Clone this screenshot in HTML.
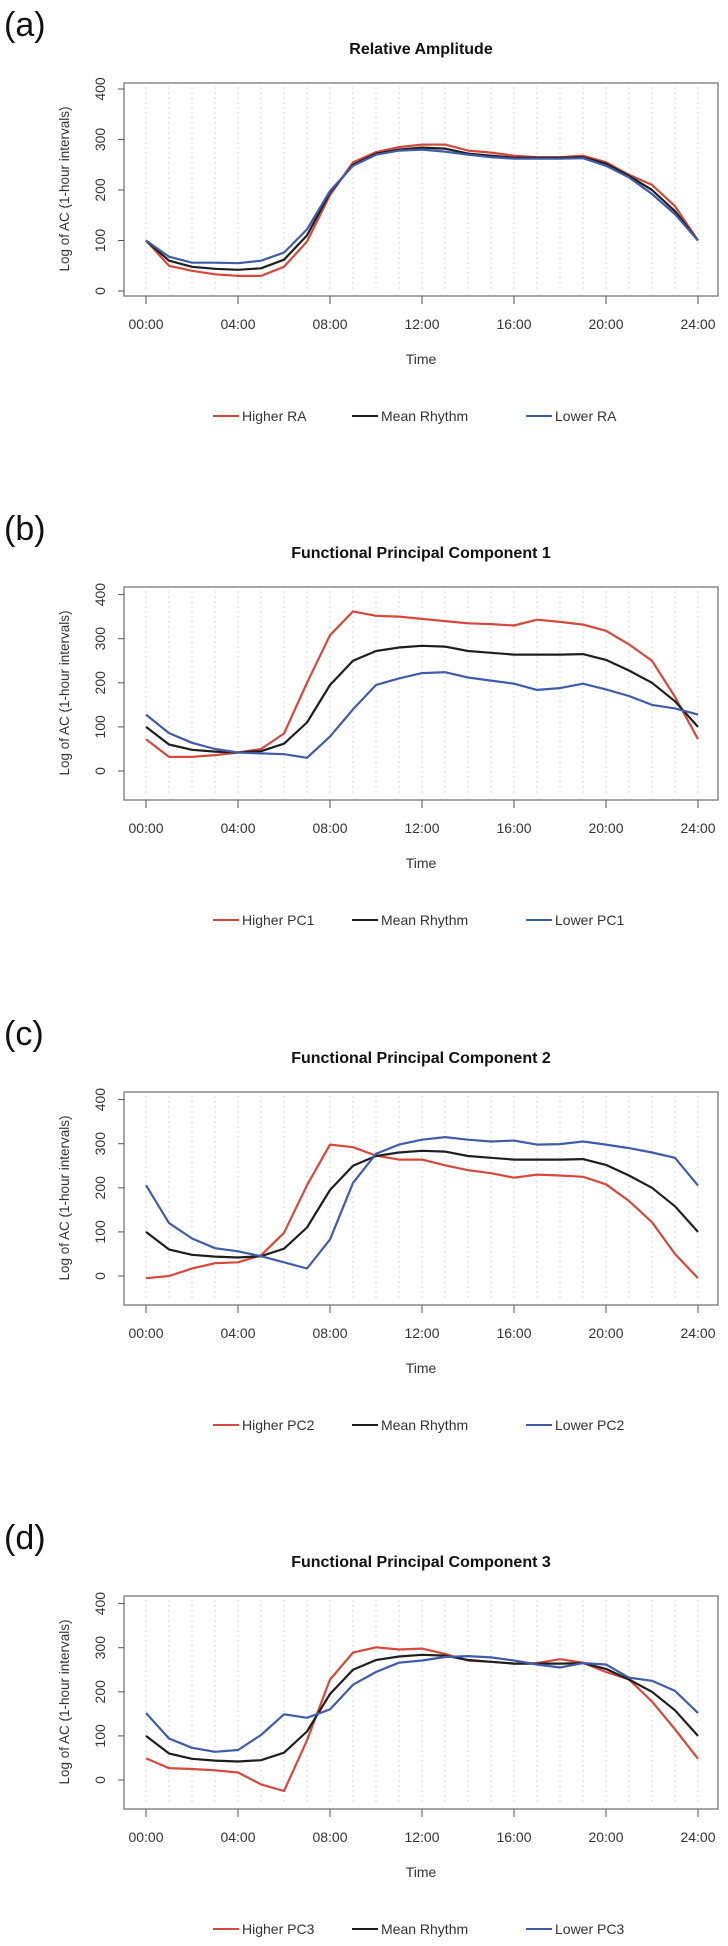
<!DOCTYPE html>
<html><head><meta charset="utf-8"><style>
html,body{margin:0;padding:0;background:#fff;width:728px;height:1946px;overflow:hidden}
svg{display:block;font-family:"Liberation Sans",Arial,sans-serif}
</style></head><body>
<svg id="fig" width="728" height="1946" viewBox="0 0 728 1946"></svg>
<script>
const hours = [0,1,2,3,4,5,6,7,8,9,10,11,12,13,14,15,16,17,18,19,20,21,22,23,24];
const xTickLabels = ["00:00","04:00","08:00","12:00","16:00","20:00","24:00"];
const yTickValues = [0,100,200,300,400];
const panelLetters = ["(a)","(b)","(c)","(d)"];
const panelTitles = ["Relative Amplitude","Functional Principal Component 1","Functional Principal Component 2","Functional Principal Component 3"];
const higherNames = ["Higher RA","Higher PC1","Higher PC2","Higher PC3"];
const lowerNames = ["Lower RA","Lower PC1","Lower PC2","Lower PC3"];
const meanRhythm = [100,60,48,44,42,45,62,110,195,250,272,280,284,282,272,268,264,264,264,265,252,228,200,158,100];
const higherRA = [100,50,40,33,30,30,48,98,190,255,275,285,290,290,278,274,268,265,265,268,255,230,210,168,100];
const lowerRA = [100,68,56,56,55,60,76,122,198,248,270,278,280,276,270,265,262,262,262,263,248,225,192,152,100];
const higherPC1 = [72,32,32,36,42,50,85,200,308,362,352,350,345,340,335,333,330,343,338,332,318,287,250,168,72];
const lowerPC1 = [128,86,64,50,42,40,38,30,78,140,195,210,222,224,212,205,198,184,188,198,185,170,150,142,128];
const higherPC2 = [-5,0,17,29,31,47,98,206,298,292,273,264,264,251,240,233,223,230,228,225,208,170,122,50,-5];
const lowerPC2 = [206,120,85,63,56,45,31,17,83,211,277,298,309,315,309,305,307,298,299,305,298,290,280,268,205];
const higherPC3 = [49,27,25,22,17,-10,-25,90,228,289,301,296,298,286,271,268,264,265,274,266,245,228,178,115,48];
const lowerPC3 = [152,94,73,64,68,102,149,141,160,216,245,266,271,279,281,278,271,262,255,265,262,232,225,202,152];
const higherSeries = [higherRA,higherPC1,higherPC2,higherPC3];
const lowerSeries = [lowerRA,lowerPC1,lowerPC2,lowerPC3];

const NS="http://www.w3.org/2000/svg";
const svg=document.getElementById('fig');
const offsets=[0,504,1009,1513];
const RED="#d6483b", BLACK="#1e1e1e", BLUE="#3f5ca8";
function mk(tag,attrs,parent){const e=document.createElementNS(NS,tag);for(const k in attrs)e.setAttribute(k,attrs[k]);(parent||svg).appendChild(e);return e;}
function xScale(h){return 146+23*h;}

for(let p=0;p<4;p++){
  const off=offsets[p];
  const g=mk('g',{});
  
  
  const y0 = p===0 ? off+291 : off+267;
  const k = p===0 ? 0.505 : 0.441;
  const yScale=v=>y0-k*v;
  const bt=off+83;
  const bb=off+296;
  const L=mk('text',{x:4,y:off+36,'font-size':34,fill:'#111'},g);L.textContent=panelLetters[p];
  
  
  const T=mk('text',{x:421,y:off+54,'font-size':16,'font-weight':'bold','text-anchor':'middle',fill:'#111'},g);T.textContent=panelTitles[p];
  
  
  for(const h of hours){
    const gl=mk('line',{x1:xScale(h),x2:xScale(h),y1:bt+4,y2:bb-4,stroke:'#d8d8d8','stroke-width':1,'stroke-dasharray':'2,3'},g);
    
    
  }
  const box=mk('rect',{x:124,y:bt,width:594,height:bb-bt,fill:'none',stroke:'#777','stroke-width':1.3},g);
  
  
  for(const v of yTickValues){
    const yy=yScale(v);
    mk('line',{x1:118,x2:124,y1:yy,y2:yy,stroke:'#555'},g);
    const t=mk('text',{x:0,y:0,'font-size':14,'text-anchor':'middle',fill:'#333',transform:`translate(105,${yy}) rotate(-90)`},g);t.textContent=v;
    
    
  }
  const yl=mk('text',{x:0,y:0,'font-size':13.5,'text-anchor':'middle',fill:'#333',transform:`translate(69,${off+189}) rotate(-90)`},g);yl.textContent="Log of AC (1-hour intervals)";
  
  
  xTickLabels.forEach((lab,i)=>{
    const xx=xScale(i*4);
    mk('line',{x1:xx,x2:xx,y1:bb,y2:bb+8,stroke:'#555'},g);
    const t=mk('text',{x:xx,y:bb+33,'font-size':14,'text-anchor':'middle',fill:'#333'},g);t.textContent=lab;
    
    
  });
  const xl=mk('text',{x:421,y:bb+68,'font-size':14,'text-anchor':'middle',fill:'#333'},g);xl.textContent="Time";
  
  
  const series=[[higherSeries[p],RED,'higher-line'],[meanRhythm,BLACK,'mean-line'],[lowerSeries[p],BLUE,'lower-line']];
  for(const si of [0,1,2]){
    const [vals,col,nm]=series[si];
    const pts=hours.map((h,i)=>xScale(h)+','+yScale(vals[i]).toFixed(1)).join(' ');
    const pl=mk('polyline',{points:pts,fill:'none',stroke:col,'stroke-width':2.2,'stroke-linejoin':'round'},g);
    
    
  }
  const ly=bb+125;
  const leg=[[higherNames[p],RED,213],["Mean Rhythm",BLACK,352],[lowerNames[p],BLUE,526]];
  for(const [nm,col,lx] of leg){
    const lg=mk('g',{},g);
    
    
    mk('line',{x1:lx,x2:lx+26,y1:ly-5,y2:ly-5,stroke:col,'stroke-width':2},lg);
    const t=mk('text',{x:lx+29,y:ly,'font-size':14,fill:'#333'},lg);t.textContent=nm;
  }
}
</script>
</body></html>
